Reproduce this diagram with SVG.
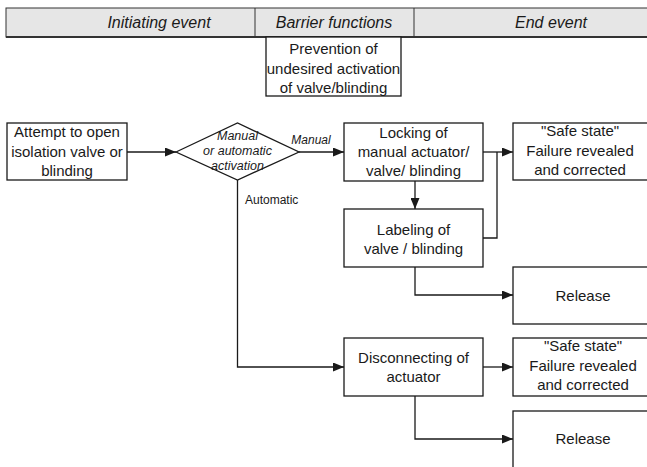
<svg xmlns="http://www.w3.org/2000/svg" width="647" height="467" viewBox="0 0 647 467">
  <defs>
    <marker id="arrow" markerWidth="11" markerHeight="9" refX="11" refY="4.5" orient="auto" markerUnits="userSpaceOnUse">
      <path d="M0,0 L11,4.5 L0,9 Z" fill="#1a1a1a"/>
    </marker>
    <style>
      .box { fill: #fff; stroke: #1a1a1a; stroke-width: 1.3; }
      .hdr { fill: #e6e6e6; stroke: #333; stroke-width: 1; }
      .t { font-family: "Liberation Sans", Arial, sans-serif; font-size: 15px; fill: #1a1a1a; text-anchor: middle; }
      .h { font-family: "Liberation Sans", Arial, sans-serif; font-size: 16px; font-style: italic; fill: #1a1a1a; text-anchor: middle; }
      .s { font-family: "Liberation Sans", Arial, sans-serif; font-size: 12px; fill: #1a1a1a; }
      .si { font-family: "Liberation Sans", Arial, sans-serif; font-size: 12px; font-style: italic; fill: #1a1a1a; text-anchor: middle; }
      .d { font-family: "Liberation Sans", Arial, sans-serif; font-size: 12.5px; font-style: italic; fill: #1a1a1a; text-anchor: middle; }
      .c { fill: none; stroke: #1a1a1a; stroke-width: 1.3; }
    </style>
  </defs>
  <rect width="647" height="467" fill="#fff"/>

  <!-- header bar -->
  <g id="header">
    <rect class="hdr" x="6" y="8" width="650" height="29"/>
    <line x1="6" y1="37" x2="647" y2="37" stroke="#333" stroke-width="1.8"/>
    <line x1="255" y1="8" x2="255" y2="37" stroke="#333" stroke-width="1"/>
    <line x1="414" y1="8" x2="414" y2="37" stroke="#333" stroke-width="1"/>
    <text class="h" x="159" y="28">Initiating event</text>
    <text class="h" x="334" y="28">Barrier functions</text>
    <text class="h" x="551" y="28">End event</text>
  </g>

  <g id="prevention">
    <rect class="box" x="266" y="37" width="135" height="59"/>
    <text class="t" x="333.5" y="54">Prevention of</text>
    <text class="t" x="333.5" y="74">undesired activation</text>
    <text class="t" x="333.5" y="93">of valve/blinding</text>
  </g>

  <!-- connectors -->
  <g id="connectors">
    <line class="c" x1="127" y1="152" x2="176" y2="152" marker-end="url(#arrow)"/>
    <line class="c" x1="299" y1="152" x2="344" y2="152" marker-end="url(#arrow)"/>
    <line class="c" x1="483" y1="152" x2="513" y2="152" marker-end="url(#arrow)"/>
    <polyline class="c" points="483,238 497,238 497,152"/>
    <line class="c" x1="415" y1="181" x2="415" y2="209" marker-end="url(#arrow)"/>
    <polyline class="c" points="415,267 415,295 513,295" marker-end="url(#arrow)"/>
    <polyline class="c" points="237.5,180 237.5,367 344,367" marker-end="url(#arrow)"/>
    <line class="c" x1="483" y1="367" x2="513" y2="367" marker-end="url(#arrow)"/>
    <polyline class="c" points="415,396 415,439 513,439" marker-end="url(#arrow)"/>
    <text class="si" x="311" y="144">Manual</text>
    <text class="s" x="245" y="204">Automatic</text>
  </g>

  <g id="attempt">
    <rect class="box" x="7" y="123" width="120" height="57"/>
    <text class="t" x="67" y="137">Attempt to open</text>
    <text class="t" x="67" y="157">isolation valve or</text>
    <text class="t" x="67" y="176">blinding</text>
  </g>

  <g id="decision">
    <polygon class="box" points="176,152 237.5,123 299,152 237.5,180"/>
    <text class="d" x="237.5" y="140">Manual</text>
    <text class="d" x="237.5" y="155">or automatic</text>
    <text class="d" x="237.5" y="170">activation</text>
  </g>

  <g id="locking">
    <rect class="box" x="344" y="123" width="139" height="58"/>
    <text class="t" x="413.5" y="138">Locking of</text>
    <text class="t" x="413.5" y="157">manual actuator/</text>
    <text class="t" x="413.5" y="176">valve/ blinding</text>
  </g>

  <g id="safe1">
    <rect class="box" x="513" y="123" width="145" height="57"/>
    <text class="t" x="580" y="136">"Safe state"</text>
    <text class="t" x="580" y="156">Failure revealed</text>
    <text class="t" x="580" y="175">and corrected</text>
  </g>

  <g id="labeling">
    <rect class="box" x="344" y="209" width="139" height="58"/>
    <text class="t" x="413.5" y="235">Labeling of</text>
    <text class="t" x="413.5" y="254">valve / blinding</text>
  </g>

  <g id="release1">
    <rect class="box" x="513" y="267" width="145" height="57"/>
    <text class="t" x="583" y="301">Release</text>
  </g>

  <g id="disconnecting">
    <rect class="box" x="344" y="338" width="139" height="58"/>
    <text class="t" x="413.5" y="363">Disconnecting of</text>
    <text class="t" x="413.5" y="382">actuator</text>
  </g>

  <g id="safe2">
    <rect class="box" x="513" y="338" width="145" height="58"/>
    <text class="t" x="583" y="351">"Safe state"</text>
    <text class="t" x="583" y="371">Failure revealed</text>
    <text class="t" x="583" y="390">and corrected</text>
  </g>

  <g id="release2">
    <rect class="box" x="513" y="411" width="145" height="70"/>
    <text class="t" x="583" y="444">Release</text>
  </g>
</svg>
